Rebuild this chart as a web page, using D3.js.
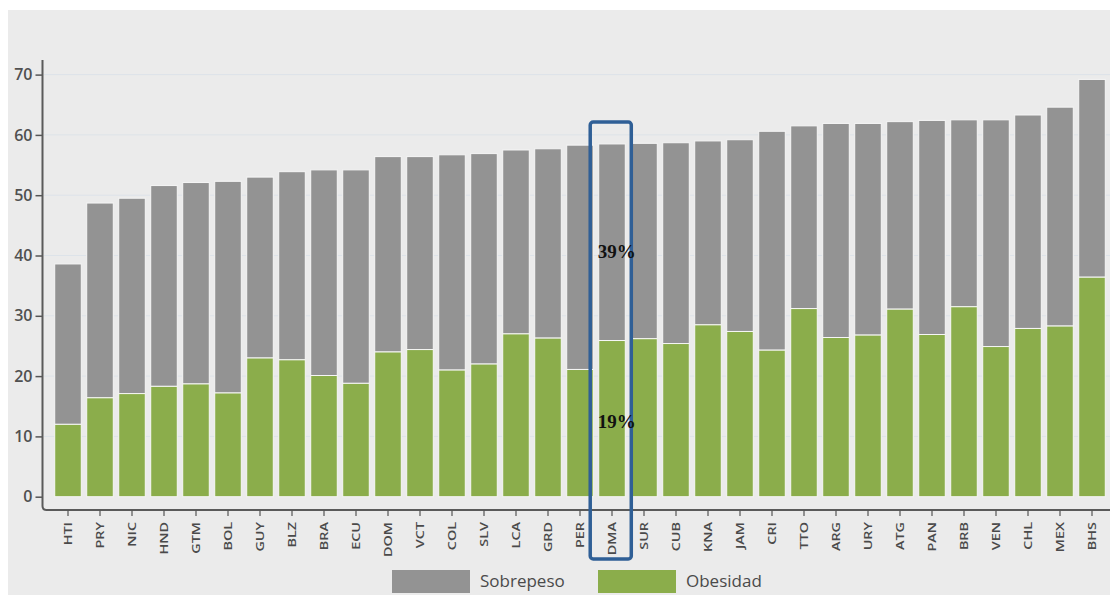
<!DOCTYPE html>
<html>
<head>
<meta charset="utf-8">
<script src="https://cdn.jsdelivr.net/npm/d3@7/dist/d3.min.js"></script>
<style>
  html, body { margin: 0; padding: 0; background: #ffffff; }
  svg { display: block; }
</style>
</head>
<body>
<svg id="chart" width="1110" height="595"></svg>
<script>
const countries = ["HTI","PRY","NIC","HND","GTM","BOL","GUY","BLZ","BRA","ECU","DOM","VCT","COL","SLV","LCA","GRD","PER","DMA","SUR","CUB","KNA","JAM","CRI","TTO","ARG","URY","ATG","PAN","BRB","VEN","CHL","MEX","BHS"];
// Total (sobrepeso incl. obesidad) prevalence, %
const totalValues = [38.6,48.7,49.5,51.6,52.1,52.3,53.0,53.9,54.2,54.2,56.4,56.4,56.7,56.9,57.5,57.7,58.3,58.5,58.6,58.7,59.0,59.2,60.6,61.5,61.9,61.9,62.2,62.4,62.5,62.5,63.3,64.6,69.2];
// Obesidad prevalence, %
const obesityValues = [12.0,16.4,17.1,18.3,18.7,17.2,23.0,22.7,20.1,18.8,24.0,24.4,21.0,22.0,27.0,26.3,21.1,25.9,26.2,25.4,28.5,27.4,24.3,31.2,26.4,26.8,31.1,26.9,31.5,24.9,27.9,28.3,36.4];
const yTicks = [0,10,20,30,40,50,60,70];
const legendLabels = ["Sobrepeso","Obesidad"];
const highlightCountry = "DMA";
const highlightLabels = ["39%","19%"];
const highlightValues = [39.6, 11.4]; // label positions along value axis

const colors = { sobrepeso: "#939393", obesidad: "#8bad4b" };

const svg = d3.select("#chart");
const W = 1110, H = 595;

// panel background
svg.append("rect").attr("x", 8).attr("y", 10).attr("width", W - 8).attr("height", H - 10).attr("fill", "#ebebeb");

const x = d3.scaleBand().domain(countries).range([52, 1108]).paddingInner(0.17).paddingOuter(0.085);
const y = d3.scaleLinear().domain([0, 70]).range([496.7, 74.6]);

// gridlines
svg.append("g").selectAll("line").data(yTicks.filter(d => d > 0)).join("line")
  .attr("x1", 44).attr("x2", W).attr("y1", d => y(d)).attr("y2", d => y(d))
  .attr("stroke", "#dde3e9").attr("stroke-width", 1);

// bars
const data = countries.map((c, i) => ({ c, total: totalValues[i], ob: obesityValues[i] }));
const bars = svg.append("g");
bars.selectAll("rect.sob").data(data).join("rect").attr("class", "sob")
  .attr("x", d => x(d.c)).attr("width", x.bandwidth())
  .attr("y", d => y(d.total)).attr("height", d => y(d.ob) - y(d.total))
  .attr("fill", colors.sobrepeso).attr("stroke", "#f6f6f6").attr("stroke-width", 1);
bars.selectAll("rect.ob").data(data).join("rect").attr("class", "ob")
  .attr("x", d => x(d.c)).attr("width", x.bandwidth())
  .attr("y", d => y(d.ob)).attr("height", d => y(0) - y(d.ob))
  .attr("fill", colors.obesidad).attr("stroke", "#f6f6f6").attr("stroke-width", 1);

// y axis
const yAxis = d3.axisLeft(y).tickValues(yTicks).tickSize(7).tickPadding(3);
const gy = svg.append("g").attr("transform", "translate(42.5,0)").call(yAxis);
gy.select(".domain").remove();
gy.selectAll(".tick line").attr("stroke", "#555").attr("stroke-width", 1.5);
gy.selectAll(".tick text").attr("fill", "#505050").style("font-family", "'Open Sans', sans-serif")
  .style("font-size", "16px").style("font-weight", "600");

// axis lines (L-shape with rounded corner)
svg.append("path").attr("d", `M42.5,60 L42.5,506 Q42.5,510 46.5,510 L${W},510`)
  .attr("fill", "none").attr("stroke", "#5a5a5a").attr("stroke-width", 2);

// x axis
const xAxis = d3.axisBottom(x).tickSize(6).tickPadding(4);
const gx = svg.append("g").attr("transform", "translate(0,510)").call(xAxis);
gx.select(".domain").remove();
gx.selectAll(".tick line").attr("stroke", "#555").attr("stroke-width", 1.2);
gx.selectAll(".tick text")
  .attr("fill", "#4a4a4a")
  .style("font-family", "'Open Sans', sans-serif").style("font-size", "11.5px").style("font-weight", "600")
  .attr("text-anchor", "end")
  .attr("dy", "0.35em")
  .attr("transform", "translate(0,12) rotate(-90) scale(1.25,1)")
  .attr("x", 0).attr("y", 0);

// highlight box
const hx = x(highlightCountry);
svg.append("rect")
  .attr("x", hx - 8.5).attr("y", 122)
  .attr("width", x.bandwidth() + 14.5).attr("height", 437)
  .attr("rx", 3).attr("ry", 3)
  .attr("fill", "none").attr("stroke", "#2f5f96").attr("stroke-width", 3.5);

svg.append("g").selectAll("text").data(highlightLabels).join("text")
  .attr("x", hx - 1).attr("y", (d, i) => y(highlightValues[i]))
  .attr("fill", "#111")
  .style("font-family", "'Liberation Serif', 'Times New Roman', serif")
  .style("font-size", "19px").style("font-weight", "bold")
  .text(d => d);

// legend
const legend = svg.append("g");
const legendX = [392, 598];
const legendColors = [colors.sobrepeso, colors.obesidad];
legend.selectAll("rect").data(legendLabels).join("rect")
  .attr("x", (d, i) => legendX[i]).attr("y", 570).attr("width", 78).attr("height", 23)
  .attr("fill", (d, i) => legendColors[i]);
legend.selectAll("text").data(legendLabels).join("text")
  .attr("x", (d, i) => legendX[i] + 88).attr("y", 587)
  .attr("fill", "#4a4a4a")
  .style("font-family", "'Open Sans', sans-serif").style("font-size", "17px")
  .text(d => d);
</script>
</body>
</html>
